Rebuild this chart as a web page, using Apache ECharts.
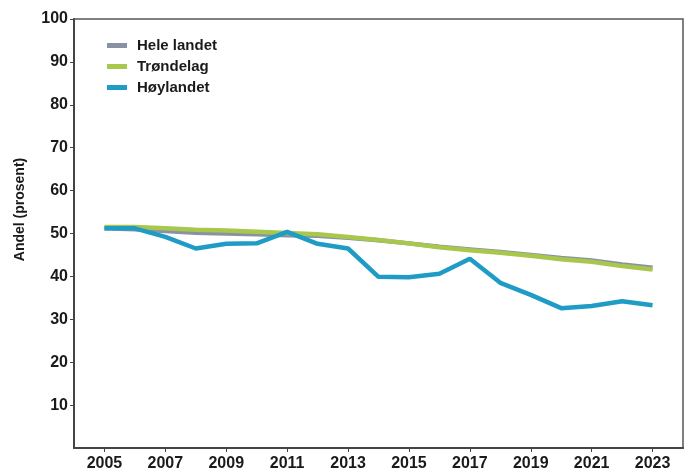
<!DOCTYPE html>
<html>
<head>
<meta charset="utf-8">
<script src="https://cdn.jsdelivr.net/npm/echarts@6/dist/echarts.min.js"></script>
<style>
	html, body { margin: 0; padding: 0; background: #fff; }
	#chart { width: 689px; height: 472px; }
</style>
</head>
<body>
<div id="chart"></div>
<script>
let years = [2005, 2006, 2007, 2008, 2009, 2010, 2011, 2012, 2013, 2014, 2015, 2016, 2017, 2018, 2019, 2020, 2021, 2022, 2023]
let yearLabels = [2005, 2007, 2009, 2011, 2013, 2015, 2017, 2019, 2021, 2023]
let yTicks = [10, 20, 30, 40, 50, 60, 70, 80, 90, 100]
let seriesNames = ['Hele landet', 'Trøndelag', 'Høylandet']
let heleLandet = [51.2, 51.0, 50.6, 50.2, 50.0, 49.8, 49.6, 49.5, 49.0, 48.4, 47.7, 46.9, 46.3, 45.7, 45.0, 44.3, 43.7, 42.8, 42.0]
let trondelag = [51.5, 51.5, 51.2, 50.9, 50.7, 50.4, 50.1, 49.8, 49.2, 48.5, 47.7, 46.8, 46.1, 45.5, 44.8, 44.0, 43.4, 42.4, 41.6]
let hoylandet = [51.2, 51.2, 49.2, 46.5, 47.6, 47.7, 50.4, 47.6, 46.5, 39.9, 39.8, 40.6, 44.1, 38.5, 35.7, 32.6, 33.1, 34.2, 33.3]

function pairs(vals) {
	return years.map((y, i) => [y, vals[i]])
}

let colors = ['#8793a4', '#a9c74c', '#1f9cc6'] // grå, grønn, blå
let font = 'Liberation Sans, Arial, sans-serif'

function _chartLine(id) {
	var dom = document.getElementById(id)
	if (!dom) return
	var series = [heleLandet, trondelag, hoylandet].map((vals, i) => ({
		name: seriesNames[i],
		type: 'line',
		data: pairs(vals),
		showSymbol: false,
		symbol: 'none',
		z: 2 + i,
		lineStyle: { width: 4.5, color: colors[i] },
		itemStyle: { color: colors[i] }
	}))
	var option = {
		animation: false,
		backgroundColor: '#fff',
		grid: {
			left: 74,
			top: 19,
			right: 6,
			bottom: 24,
			show: true,
			borderColor: '#555',
			borderWidth: 1.5
		},
		legend: {
			data: seriesNames,
			orient: 'vertical',
			left: 102,
			top: 33,
			itemWidth: 20,
			itemHeight: 5,
			itemGap: 6,
			icon: 'rect',
			textStyle: { color: '#1a1a1a', fontSize: 15, fontWeight: 'bold', fontFamily: font, padding: [0, 0, 0, 5] }
		},
		xAxis: {
			type: 'value',
			min: 2004,
			max: 2024,
			splitLine: { show: false },
			axisLine: { lineStyle: { color: '#444', width: 2 } },
			axisTick: { customValues: yearLabels, length: 4, lineStyle: { color: '#444' } },
			axisLabel: {
				customValues: yearLabels,
				formatter: v => String(v),
				color: '#1a1a1a',
				fontSize: 16,
				fontWeight: 'bold',
				fontFamily: font,
				margin: 8
			}
		},
		yAxis: {
			type: 'value',
			min: 0,
			max: 100,
			name: 'Andel (prosent)',
			nameLocation: 'middle',
			nameGap: 47,
			nameTextStyle: { color: '#1a1a1a', fontSize: 14, fontWeight: 'bold', fontFamily: font, padding: [0, 0, 0, 48] },
			splitLine: { show: false },
			axisLine: { lineStyle: { color: '#444', width: 2 } },
			axisTick: { customValues: yTicks, length: 4, lineStyle: { color: '#444' } },
			axisLabel: {
				customValues: yTicks,
				color: '#1a1a1a',
				fontSize: 16,
				fontWeight: 'bold',
				fontFamily: font,
				margin: 6
			}
		},
		series: series
	}
	var myChart = echarts.init(dom)
	myChart.setOption(option)
	return myChart
}

_chartLine('chart')
</script>
</body>
</html>
